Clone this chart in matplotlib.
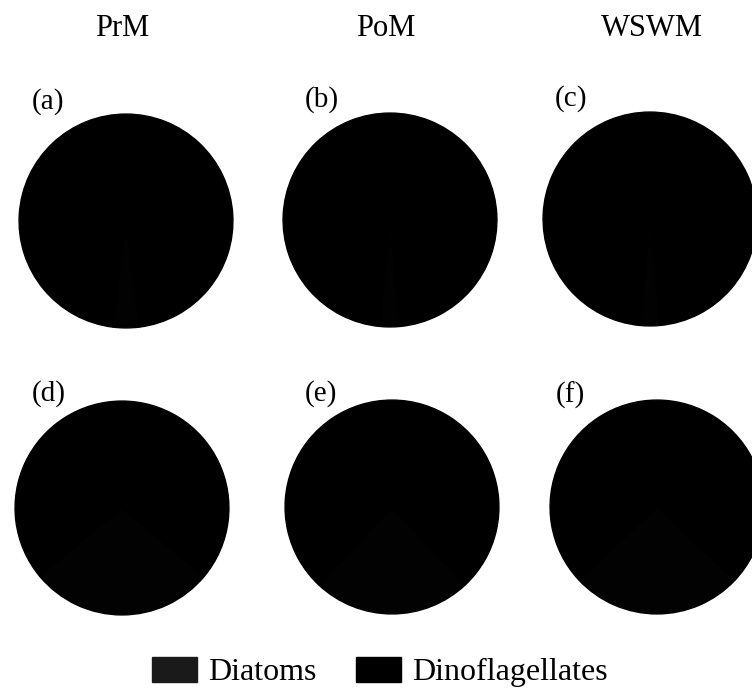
import matplotlib.pyplot as plt
from matplotlib.patches import Patch

plt.rcParams['font.family'] = ['Liberation Serif', 'DejaVu Serif']

# Relative abundance (%) of the two groups at each site/season
seasons = ["PrM", "PoM", "WSWM"]
panel_labels = ["(a)", "(b)", "(c)", "(d)", "(e)", "(f)"]
groups = ["Diatoms", "Dinoflagellates"]
diatoms = [4, 3, 3, 28, 24, 26]
dinoflagellates = [96, 97, 97, 72, 76, 74]
colors = ["#020202", "#000000"]

W, H = 752, 696
fig = plt.figure(figsize=(W / 100, H / 100), dpi=100)

# pie centres and radii in pixels (x, y from top)
centres = [(126, 221), (390, 220), (650, 219),
           (122, 508), (392, 507), (657, 507)]
radius = 108
# panel letter positions (left edge, vertical centre) in pixels
label_pos = [(32, 102), (305, 100), (555, 99),
             (32, 394), (305, 394), (556, 395)]

for i, (cx, cy) in enumerate(centres):
    ax = fig.add_axes([(cx - radius) / W, 1 - (cy + radius) / H,
                       2 * radius / W, 2 * radius / H])
    share = diatoms[i] / (diatoms[i] + dinoflagellates[i]) * 360
    wedges, _ = ax.pie([diatoms[i], dinoflagellates[i]], colors=colors,
                       startangle=270 - share / 2, counterclock=True)
    # edge in the face colour hides the seam between wedges
    for w in wedges:
        w.set_edgecolor(w.get_facecolor())
        w.set_linewidth(1.0)
    ax.set_aspect('equal')
    ax.set_xlim(-1.01, 1.01)
    ax.set_ylim(-1.01, 1.01)
    ax.axis('off')
    lx, ly = label_pos[i]
    fig.text(lx / W, 1 - ly / H, panel_labels[i],
             fontsize=21, ha='left', va='center')

for name, x in zip(seasons, [122, 386, 652]):
    fig.text(x / W, 1 - 28 / H, name, fontsize=22, ha='center', va='center')

handles = [Patch(facecolor=c, edgecolor=c) for c in ["#1a1a1a", "#000000"]]
fig.legend(handles, groups, loc='center', bbox_to_anchor=(0.505, 1 - 672 / H),
           ncol=2, frameon=False, fontsize=23, handlelength=1.4,
           handleheight=0.85, handletextpad=0.35, columnspacing=1.25)

fig.savefig("out.png", dpi=100, facecolor='white')
